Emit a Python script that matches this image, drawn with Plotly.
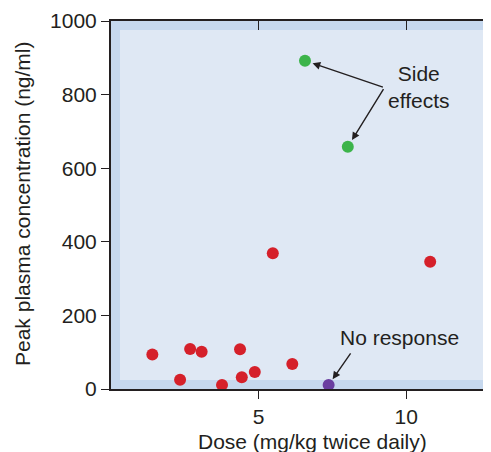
import plotly.graph_objects as go

# Data (dose mg/kg twice daily, peak plasma concentration ng/ml)
toxic_dose = [6.57, 8.02]
toxic_conc = [892, 658]

nonresp_dose = [7.37]
nonresp_conc = [11]

normal_dose = [1.40, 2.34, 2.68, 3.07, 3.76, 4.37, 4.43, 4.87, 5.48, 6.14, 10.81]
normal_conc = [94, 25, 109, 101, 11, 108, 32, 46, 369, 68, 346]

x_ticks = [5, 10]
y_ticks = [0, 200, 400, 600, 800, 1000]

x_title = "Dose (mg/kg twice daily)"
y_title = "Peak plasma concentration (ng/ml)"

RED = "#d5202a"
GREEN = "#3cb44a"
PURPLE = "#6a3fa0"
INK = "#231f20"
OUTER = "#c6d8ee"
INNER = "#dfe8f4"
FONT = "Liberation Sans, Arial, Helvetica, sans-serif"

fig = go.Figure()
mk = dict(size=12, line=dict(width=0))
fig.add_trace(go.Scatter(x=normal_dose, y=normal_conc, mode="markers",
                         marker=dict(color=RED, **mk), cliponaxis=False, showlegend=False))
fig.add_trace(go.Scatter(x=toxic_dose, y=toxic_conc, mode="markers",
                         marker=dict(color=GREEN, **mk), cliponaxis=False, showlegend=False))
fig.add_trace(go.Scatter(x=nonresp_dose, y=nonresp_conc, mode="markers",
                         marker=dict(color=PURPLE, **mk), cliponaxis=False, showlegend=False))
# invisible trace to activate top/right axes
fig.add_trace(go.Scatter(x=[None], y=[None], xaxis="x2", yaxis="y2", showlegend=False))

# page body has an 8px margin; the figure is sized so the screenshot matches
OFF = 8
W, H = 491 - OFF, 452 - OFF
L, R, T, B = 111 - OFF, 0, 21 - OFF, 452 - 389
pw, ph = W - L - R, H - T - B

def px(xs):  # screen pixel -> paper fraction
    return (xs - OFF - L) / pw

def py(ys):
    return (H - B - (ys - OFF)) / ph

# inner light panel
fig.add_shape(type="rect", xref="paper", yref="paper",
              x0=px(120), x1=px(485), y0=py(380), y1=py(30),
              fillcolor=INNER, line=dict(width=0), layer="below")

xr = [0, 12.87]
yr = [0, 1000]

fig.update_layout(
    width=W, height=H,
    margin=dict(l=L, r=R, t=T, b=B),
    paper_bgcolor="white",
    plot_bgcolor=OUTER,
    font=dict(family=FONT, size=21, color=INK),
    xaxis=dict(range=xr, tickvals=x_ticks, ticks="outside", ticklen=8, tickwidth=1.3,
               tickcolor=INK, showline=True, linecolor=INK, linewidth=2,
               showgrid=False, zeroline=False, tickfont=dict(size=21)),
    yaxis=dict(range=yr, tickvals=y_ticks, ticks="outside", ticklen=8, tickwidth=1.3,
               tickcolor=INK, showline=True, linecolor=INK, linewidth=2,
               showgrid=False, zeroline=False, tickfont=dict(size=21)),
    xaxis2=dict(range=xr, tickvals=x_ticks, overlaying="x", side="top", ticks="inside",
                ticklen=9, tickwidth=1.3, tickcolor=INK, showticklabels=False,
                showline=True, linecolor=INK, linewidth=2, showgrid=False, zeroline=False),
    yaxis2=dict(range=yr, tickvals=y_ticks, overlaying="y", side="right", ticks="inside",
                ticklen=6, tickwidth=1.3, tickcolor=INK, showticklabels=False,
                showline=False, showgrid=False, zeroline=False),
)

# axis titles
fig.add_annotation(xref="paper", yref="paper", x=px(312.5), y=py(441),
                   text=x_title, showarrow=False, xanchor="center", yanchor="middle",
                   font=dict(size=21, color=INK))
fig.add_annotation(xref="paper", yref="paper", x=px(22), y=py(204),
                   text=y_title, showarrow=False, textangle=-90,
                   xanchor="center", yanchor="middle", font=dict(size=21, color=INK))

# callouts
arrow = dict(showarrow=True, arrowhead=2, arrowsize=1.1, arrowwidth=1.4,
             arrowcolor=INK, axref="x", ayref="y", text="")
vx, vy = 9.26, 819
fig.add_annotation(x=toxic_dose[0], y=toxic_conc[0], ax=vx, ay=vy, standoff=8, **arrow)
fig.add_annotation(x=toxic_dose[1], y=toxic_conc[1], ax=vx, ay=vy, standoff=8, **arrow)
fig.add_annotation(x=nonresp_dose[0], y=nonresp_conc[0], ax=8.15, ay=101, standoff=7, **arrow)

fig.add_annotation(x=10.4, y=820, text="Side<br>effects", showarrow=False,
                   xanchor="center", yanchor="middle", font=dict(size=21, color=INK))
fig.add_annotation(x=9.76, y=139, text="No response", showarrow=False,
                   xanchor="center", yanchor="middle", font=dict(size=21, color=INK))

fig.write_html("out.html")
